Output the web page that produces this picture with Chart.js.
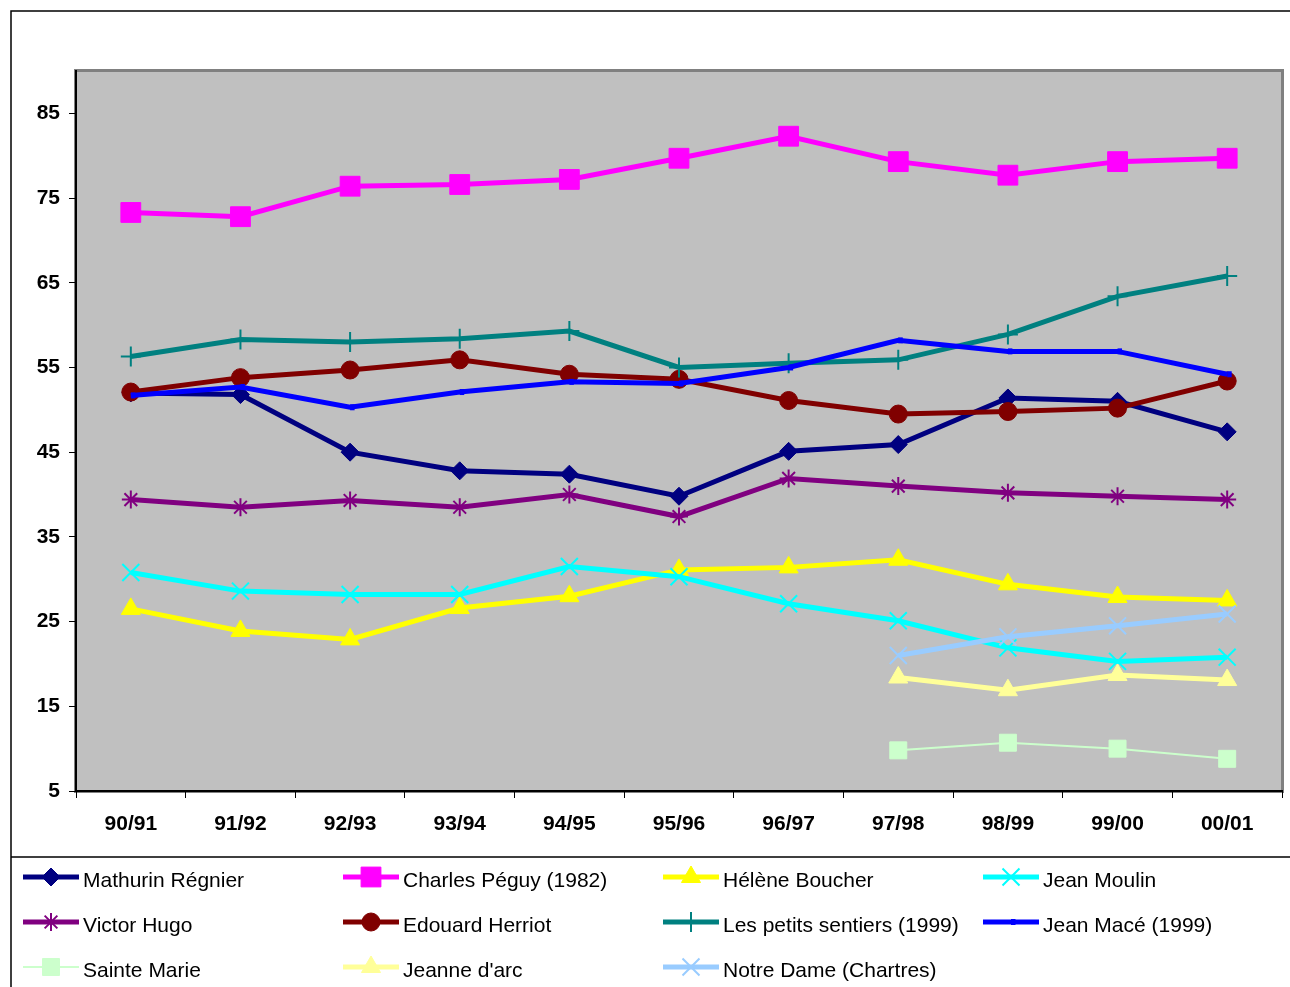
<!DOCTYPE html>
<html>
<head>
<meta charset="utf-8">
<script src="https://cdn.jsdelivr.net/npm/chart.js@4.4.1/dist/chart.umd.min.js"></script>
<style>
html,body{margin:0;padding:0;background:#fff;}
canvas{display:block;}
</style>
</head>
<body>
<canvas id="c" width="1290" height="987"></canvas>
<script>
const categories = ['90/91','91/92','92/93','93/94','94/95','95/96','96/97','97/98','98/99','99/00','00/01'];
const yTicks = [5,15,25,35,45,55,65,75,85];

const mathurinRegnier = [52.0, 51.8, 45.0, 42.8, 42.4, 39.8, 45.1, 45.9, 51.4, 51.0, 47.4];
const charlesPeguy    = [73.3, 72.8, 76.4, 76.6, 77.2, 79.7, 82.3, 79.3, 77.7, 79.3, 79.7];
const heleneBoucher   = [26.5, 23.9, 22.9, 26.6, 28.0, 31.1, 31.4, 32.3, 29.4, 27.9, 27.5];
const jeanMoulin      = [30.8, 28.6, 28.2, 28.2, 31.5, 30.3, 27.1, 25.1, 21.9, 20.3, 20.8];
const victorHugo      = [39.4, 38.5, 39.3, 38.5, 40.0, 37.4, 41.9, 41.0, 40.2, 39.8, 39.4];
const edouardHerriot  = [52.1, 53.8, 54.7, 55.9, 54.2, 53.6, 51.1, 49.5, 49.8, 50.2, 53.4];
const petitsSentiers  = [56.3, 58.3, 58.0, 58.4, 59.3, 55.0, 55.5, 55.9, 58.9, 63.4, 65.8];
const jeanMace        = [51.7, 52.7, 50.3, 52.1, 53.3, 53.1, 55.0, 58.2, 56.9, 56.9, 54.2];
const sainteMarie     = [null, null, null, null, null, null, null, 9.8, 10.7, 10.0, 8.8];
const jeanneDarc      = [null, null, null, null, null, null, null, 18.4, 16.9, 18.7, 18.1];
const notreDame       = [null, null, null, null, null, null, null, 21.0, 23.2, 24.5, 25.9];

const FONT = '"Liberation Sans", Arial, sans-serif';

function ds(label, data, color, style, radius, lineW, ptBorder) {
  return {
    label, data,
    borderColor: color, backgroundColor: color,
    pointBackgroundColor: color, pointBorderColor: color,
    pointStyle: style, pointRadius: radius, pointHoverRadius: radius,
    pointBorderWidth: ptBorder, borderWidth: lineW,
    tension: 0, spanGaps: false, fill: false, clip: 20
  };
}

const datasets = [
  ds('Mathurin Régnier', mathurinRegnier, '#000080', 'rectRot', 9, 5, 1),
  ds('Charles Péguy (1982)', charlesPeguy, '#ff00ff', 'rect', 14, 5, 1),
  ds('Hélène Boucher', heleneBoucher, '#ffff00', 'triangle', 11, 5, 1),
  ds('Jean Moulin', jeanMoulin, '#00ffff', 'crossRot', 12, 5, 2),
  ds('Victor Hugo', victorHugo, '#800080', 'star', 9, 5, 2),
  ds('Edouard Herriot', edouardHerriot, '#800000', 'circle', 9, 5, 1),
  ds('Les petits sentiers (1999)', petitsSentiers, '#008080', 'cross', 10, 5, 2),
  ds('Jean Macé (1999)', jeanMace, '#0000ff', 'dash', 4.5, 5, 6),
  ds('Sainte Marie', sainteMarie, '#ccffcc', 'rect', 12, 2, 1),
  ds("Jeanne d'arc", jeanneDarc, '#ffff99', 'triangle', 11, 5, 1),
  ds('Notre Dame (Chartres)', notreDame, '#99ccff', 'crossRot', 12, 5, 2)
];
datasets.forEach((d, i) => { d.order = datasets.length - i; });

const frame = {
  id: 'frame',
  beforeDraw(chart) {
    const ctx = chart.ctx, a = chart.chartArea;
    ctx.save();
    ctx.fillStyle = '#fff';
    ctx.fillRect(0, 0, chart.width, chart.height);
    ctx.strokeStyle = '#000';
    ctx.lineWidth = 1.5;
    ctx.beginPath();
    ctx.moveTo(11, chart.height); ctx.lineTo(11, 11); ctx.lineTo(chart.width, 11);
    ctx.moveTo(11, 857); ctx.lineTo(chart.width, 857);
    ctx.stroke();
    ctx.fillStyle = '#c0c0c0';
    ctx.fillRect(a.left, a.top, a.right - a.left, a.bottom - a.top);
    ctx.strokeStyle = '#808080';
    ctx.lineWidth = 3;
    ctx.strokeRect(a.left - 0.5, a.top - 0.5, a.right - a.left + 1, a.bottom - a.top + 1);
    ctx.restore();
  },
  afterDraw(chart) {
    const ctx = chart.ctx;
    ctx.save();
    chart.data.datasets.forEach((d, i) => {
      const col = i % 4, row = Math.floor(i / 4);
      const x0 = 23 + col * 320, y = 877 + row * 45;
      ctx.strokeStyle = d.borderColor;
      ctx.lineWidth = d.borderWidth;
      ctx.lineCap = 'butt';
      ctx.beginPath(); ctx.moveTo(x0, y); ctx.lineTo(x0 + 56, y); ctx.stroke();
      ctx.fillStyle = d.pointBackgroundColor;
      ctx.strokeStyle = d.pointBorderColor;
      ctx.lineWidth = d.pointBorderWidth;
      Chart.helpers.drawPoint(ctx, { pointStyle: d.pointStyle, radius: d.pointRadius, borderWidth: d.pointBorderWidth, rotation: 0 }, x0 + 28, y);
      ctx.fillStyle = '#000';
      ctx.font = '21px ' + FONT;
      ctx.textBaseline = 'middle';
      ctx.textAlign = 'left';
      ctx.fillText(d.label, x0 + 60, y + 4);
    });
    ctx.restore();
  }
};

new Chart(document.getElementById('c'), {
  type: 'line',
  data: { labels: categories, datasets },
  plugins: [frame],
  options: {
    responsive: false,
    animation: false,
    devicePixelRatio: 1,
    layout: { autoPadding: false, padding: { left: 0, top: 71, right: 8, bottom: 130 } },
    plugins: { legend: { display: false }, tooltip: { enabled: false } },
    scales: {
      x: {
        type: 'category',
        offset: true,
        afterFit(s) { s.height = 66; s.paddingLeft = 0; s.paddingRight = 0; },
        grid: { offset: true, drawOnChartArea: false, drawTicks: true, tickLength: 7, color: '#000', lineWidth: 1 },
        border: { display: true, color: '#000', width: 2 },
        ticks: { color: '#000', font: { family: FONT, size: 21, weight: 'bold' }, padding: 14, maxRotation: 0, autoSkip: false }
      },
      y: {
        min: 5, max: 90,
        afterFit(s) { s.width = 76; s.paddingTop = 0; s.paddingBottom = 0; },
        afterBuildTicks(s) { s.ticks = yTicks.map(v => ({ value: v })); },
        grid: { drawOnChartArea: false, drawTicks: true, tickLength: 7, color: '#000', lineWidth: 1 },
        border: { display: true, color: '#000', width: 2 },
        ticks: { color: '#000', font: { family: FONT, size: 21, weight: 'bold' }, padding: 9 }
      }
    }
  }
});
</script>
</body>
</html>
